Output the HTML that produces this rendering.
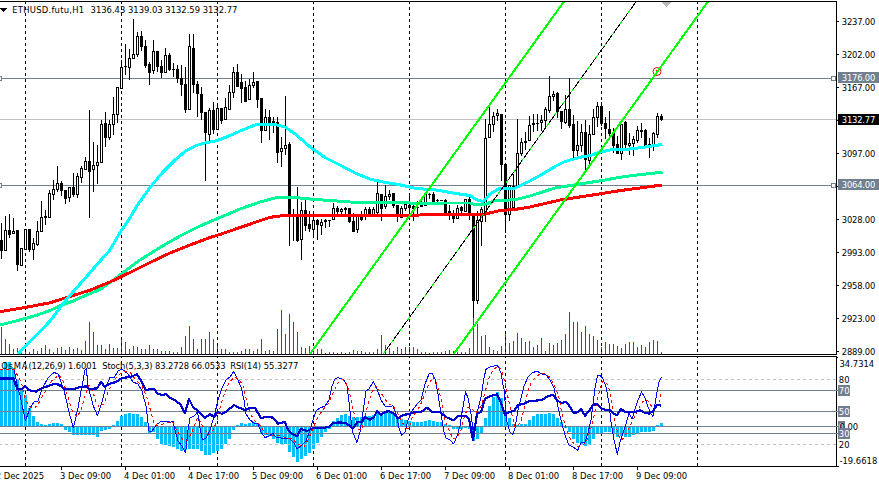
<!DOCTYPE html>
<html><head><meta charset="utf-8"><title>ETHUSD.futu,H1</title>
<style>
html,body{margin:0;padding:0;background:#fff;overflow:hidden}
svg{display:block}
text{font-family:"DejaVu Sans Condensed","Liberation Sans",sans-serif;font-size:9.33px;fill:#000}
.w{fill:#fff}
.p{letter-spacing:-0.2px}
.pw{letter-spacing:-0.2px;fill:#fff}
</style></head><body>
<svg width="879" height="483" viewBox="0 0 879 483">
<rect width="879" height="483" fill="#fff"/>
<defs>
<clipPath id="cm"><rect x="0" y="2" width="836" height="352"/></clipPath>
<clipPath id="ci"><rect x="0" y="357" width="836" height="109"/></clipPath>
</defs>

<g shape-rendering="crispEdges">
<rect x="0" y="78" width="836" height="1" fill="#708090"/>
<rect x="0" y="185" width="836" height="1" fill="#708090"/>
<rect x="0" y="119" width="838" height="1" fill="#c0c0c0"/>
<rect x="-3.5" y="76.5" width="5" height="4" fill="#fff" stroke="#708090" stroke-width="1"/>
<rect x="831.5" y="76.5" width="4" height="4" fill="#fff" stroke="#708090" stroke-width="1"/>
<rect x="-3.5" y="183.5" width="5" height="4" fill="#fff" stroke="#708090" stroke-width="1"/>
<rect x="831.5" y="183.5" width="4" height="4" fill="#fff" stroke="#708090" stroke-width="1"/>
</g>
<g shape-rendering="crispEdges" fill="#008000">
<rect x="1" y="327" width="1" height="27"/>
<rect x="5" y="339" width="1" height="15"/>
<rect x="9" y="344" width="1" height="10"/>
<rect x="13" y="349" width="1" height="5"/>
<rect x="17" y="348" width="1" height="6"/>
<rect x="21" y="350" width="1" height="4"/>
<rect x="25" y="350" width="1" height="4"/>
<rect x="29" y="352" width="1" height="2"/>
<rect x="33" y="349" width="1" height="5"/>
<rect x="37" y="351" width="1" height="3"/>
<rect x="41" y="348" width="1" height="6"/>
<rect x="45" y="345" width="1" height="9"/>
<rect x="49" y="349" width="1" height="5"/>
<rect x="53" y="352" width="1" height="2"/>
<rect x="57" y="348" width="1" height="6"/>
<rect x="61" y="347" width="1" height="7"/>
<rect x="65" y="350" width="1" height="4"/>
<rect x="69" y="347" width="1" height="7"/>
<rect x="73" y="349" width="1" height="5"/>
<rect x="77" y="348" width="1" height="6"/>
<rect x="81" y="350" width="1" height="4"/>
<rect x="85" y="341" width="1" height="13"/>
<rect x="89" y="322" width="1" height="32"/>
<rect x="93" y="332" width="1" height="22"/>
<rect x="97" y="345" width="1" height="9"/>
<rect x="101" y="345" width="1" height="9"/>
<rect x="105" y="349" width="1" height="5"/>
<rect x="109" y="344" width="1" height="10"/>
<rect x="113" y="348" width="1" height="6"/>
<rect x="117" y="348" width="1" height="6"/>
<rect x="121" y="339" width="1" height="15"/>
<rect x="125" y="342" width="1" height="12"/>
<rect x="129" y="349" width="1" height="5"/>
<rect x="133" y="346" width="1" height="8"/>
<rect x="137" y="347" width="1" height="7"/>
<rect x="141" y="349" width="1" height="5"/>
<rect x="145" y="349" width="1" height="5"/>
<rect x="149" y="345" width="1" height="9"/>
<rect x="153" y="349" width="1" height="5"/>
<rect x="157" y="349" width="1" height="5"/>
<rect x="161" y="351" width="1" height="3"/>
<rect x="165" y="351" width="1" height="3"/>
<rect x="169" y="351" width="1" height="3"/>
<rect x="173" y="352" width="1" height="2"/>
<rect x="177" y="352" width="1" height="2"/>
<rect x="181" y="347" width="1" height="7"/>
<rect x="185" y="336" width="1" height="18"/>
<rect x="189" y="326" width="1" height="28"/>
<rect x="193" y="339" width="1" height="15"/>
<rect x="197" y="349" width="1" height="5"/>
<rect x="201" y="339" width="1" height="15"/>
<rect x="205" y="339" width="1" height="15"/>
<rect x="209" y="332" width="1" height="22"/>
<rect x="213" y="339" width="1" height="15"/>
<rect x="217" y="345" width="1" height="9"/>
<rect x="221" y="349" width="1" height="5"/>
<rect x="225" y="349" width="1" height="5"/>
<rect x="229" y="352" width="1" height="2"/>
<rect x="233" y="352" width="1" height="2"/>
<rect x="237" y="352" width="1" height="2"/>
<rect x="241" y="351" width="1" height="3"/>
<rect x="245" y="349" width="1" height="5"/>
<rect x="249" y="349" width="1" height="5"/>
<rect x="253" y="351" width="1" height="3"/>
<rect x="257" y="349" width="1" height="5"/>
<rect x="261" y="339" width="1" height="15"/>
<rect x="265" y="351" width="1" height="3"/>
<rect x="269" y="350" width="1" height="4"/>
<rect x="273" y="351" width="1" height="3"/>
<rect x="277" y="329" width="1" height="25"/>
<rect x="281" y="310" width="1" height="44"/>
<rect x="285" y="334" width="1" height="20"/>
<rect x="289" y="314" width="1" height="40"/>
<rect x="293" y="322" width="1" height="32"/>
<rect x="297" y="332" width="1" height="22"/>
<rect x="301" y="347" width="1" height="7"/>
<rect x="305" y="348" width="1" height="6"/>
<rect x="309" y="346" width="1" height="8"/>
<rect x="313" y="347" width="1" height="7"/>
<rect x="317" y="349" width="1" height="5"/>
<rect x="321" y="349" width="1" height="5"/>
<rect x="325" y="353" width="1" height="1"/>
<rect x="329" y="352" width="1" height="2"/>
<rect x="333" y="352" width="1" height="2"/>
<rect x="337" y="353" width="1" height="1"/>
<rect x="341" y="352" width="1" height="2"/>
<rect x="345" y="353" width="1" height="1"/>
<rect x="349" y="352" width="1" height="2"/>
<rect x="353" y="350" width="1" height="4"/>
<rect x="357" y="351" width="1" height="3"/>
<rect x="361" y="351" width="1" height="3"/>
<rect x="365" y="352" width="1" height="2"/>
<rect x="369" y="352" width="1" height="2"/>
<rect x="373" y="352" width="1" height="2"/>
<rect x="377" y="349" width="1" height="5"/>
<rect x="381" y="335" width="1" height="19"/>
<rect x="385" y="345" width="1" height="9"/>
<rect x="389" y="348" width="1" height="6"/>
<rect x="393" y="351" width="1" height="3"/>
<rect x="397" y="347" width="1" height="7"/>
<rect x="401" y="349" width="1" height="5"/>
<rect x="405" y="347" width="1" height="7"/>
<rect x="409" y="347" width="1" height="7"/>
<rect x="413" y="347" width="1" height="7"/>
<rect x="417" y="349" width="1" height="5"/>
<rect x="421" y="352" width="1" height="2"/>
<rect x="425" y="352" width="1" height="2"/>
<rect x="429" y="353" width="1" height="1"/>
<rect x="433" y="352" width="1" height="2"/>
<rect x="437" y="352" width="1" height="2"/>
<rect x="441" y="352" width="1" height="2"/>
<rect x="445" y="351" width="1" height="3"/>
<rect x="449" y="350" width="1" height="4"/>
<rect x="453" y="351" width="1" height="3"/>
<rect x="457" y="352" width="1" height="2"/>
<rect x="461" y="352" width="1" height="2"/>
<rect x="465" y="352" width="1" height="2"/>
<rect x="469" y="348" width="1" height="6"/>
<rect x="473" y="317" width="1" height="37"/>
<rect x="477" y="324" width="1" height="30"/>
<rect x="481" y="336" width="1" height="18"/>
<rect x="485" y="335" width="1" height="19"/>
<rect x="489" y="347" width="1" height="7"/>
<rect x="493" y="350" width="1" height="4"/>
<rect x="497" y="351" width="1" height="3"/>
<rect x="501" y="346" width="1" height="8"/>
<rect x="505" y="331" width="1" height="23"/>
<rect x="509" y="343" width="1" height="11"/>
<rect x="513" y="341" width="1" height="13"/>
<rect x="517" y="333" width="1" height="21"/>
<rect x="521" y="338" width="1" height="16"/>
<rect x="525" y="342" width="1" height="12"/>
<rect x="529" y="341" width="1" height="13"/>
<rect x="533" y="347" width="1" height="7"/>
<rect x="537" y="345" width="1" height="9"/>
<rect x="541" y="338" width="1" height="16"/>
<rect x="545" y="351" width="1" height="3"/>
<rect x="549" y="343" width="1" height="11"/>
<rect x="553" y="345" width="1" height="9"/>
<rect x="557" y="343" width="1" height="11"/>
<rect x="561" y="340" width="1" height="14"/>
<rect x="565" y="334" width="1" height="20"/>
<rect x="569" y="312" width="1" height="42"/>
<rect x="573" y="322" width="1" height="32"/>
<rect x="577" y="322" width="1" height="32"/>
<rect x="581" y="332" width="1" height="22"/>
<rect x="585" y="326" width="1" height="28"/>
<rect x="589" y="334" width="1" height="20"/>
<rect x="593" y="336" width="1" height="18"/>
<rect x="597" y="340" width="1" height="14"/>
<rect x="601" y="347" width="1" height="7"/>
<rect x="605" y="342" width="1" height="12"/>
<rect x="609" y="344" width="1" height="10"/>
<rect x="613" y="344" width="1" height="10"/>
<rect x="617" y="346" width="1" height="8"/>
<rect x="621" y="348" width="1" height="6"/>
<rect x="625" y="344" width="1" height="10"/>
<rect x="629" y="342" width="1" height="12"/>
<rect x="633" y="342" width="1" height="12"/>
<rect x="637" y="347" width="1" height="7"/>
<rect x="641" y="345" width="1" height="9"/>
<rect x="645" y="347" width="1" height="7"/>
<rect x="649" y="342" width="1" height="12"/>
<rect x="653" y="340" width="1" height="14"/>
<rect x="657" y="341" width="1" height="13"/>
<rect x="661" y="352" width="1" height="2"/>
</g>
<g shape-rendering="crispEdges" stroke="#000" stroke-width="1" stroke-dasharray="3 3">
<line x1="25.5" y1="1" x2="25.5" y2="354"/>
<line x1="25.5" y1="357" x2="25.5" y2="466" stroke-dashoffset="2"/>
<line x1="121.5" y1="1" x2="121.5" y2="354"/>
<line x1="121.5" y1="357" x2="121.5" y2="466" stroke-dashoffset="2"/>
<line x1="217.5" y1="1" x2="217.5" y2="354"/>
<line x1="217.5" y1="357" x2="217.5" y2="466" stroke-dashoffset="2"/>
<line x1="313.5" y1="1" x2="313.5" y2="354"/>
<line x1="313.5" y1="357" x2="313.5" y2="466" stroke-dashoffset="2"/>
<line x1="409.5" y1="1" x2="409.5" y2="354"/>
<line x1="409.5" y1="357" x2="409.5" y2="466" stroke-dashoffset="2"/>
<line x1="505.5" y1="1" x2="505.5" y2="354"/>
<line x1="505.5" y1="357" x2="505.5" y2="466" stroke-dashoffset="2"/>
<line x1="601.5" y1="1" x2="601.5" y2="354"/>
<line x1="601.5" y1="357" x2="601.5" y2="466" stroke-dashoffset="2"/>
<line x1="697.5" y1="1" x2="697.5" y2="354"/>
<line x1="697.5" y1="357" x2="697.5" y2="466" stroke-dashoffset="2"/>
</g>
<g shape-rendering="crispEdges" clip-path="url(#cm)">
<rect x="1" y="223" width="1" height="36" fill="#000"/>
<rect x="0" y="240" width="3" height="11" fill="#000"/>
<rect x="5" y="216" width="1" height="35" fill="#000"/>
<rect x="4" y="230" width="3" height="21" fill="#000"/>
<rect x="5" y="231" width="1" height="19" fill="#fff"/>
<rect x="9" y="214" width="1" height="24" fill="#000"/>
<rect x="8" y="230" width="3" height="5" fill="#000"/>
<rect x="13" y="218" width="1" height="16" fill="#000"/>
<rect x="12" y="231" width="3" height="3" fill="#000"/>
<rect x="13" y="232" width="1" height="1" fill="#fff"/>
<rect x="17" y="230" width="1" height="41" fill="#000"/>
<rect x="16" y="230" width="3" height="35" fill="#000"/>
<rect x="21" y="248" width="1" height="18" fill="#000"/>
<rect x="20" y="248" width="3" height="18" fill="#000"/>
<rect x="21" y="249" width="1" height="16" fill="#fff"/>
<rect x="25" y="229" width="1" height="21" fill="#000"/>
<rect x="24" y="229" width="3" height="21" fill="#000"/>
<rect x="25" y="230" width="1" height="19" fill="#fff"/>
<rect x="29" y="229" width="1" height="23" fill="#000"/>
<rect x="28" y="229" width="3" height="21" fill="#000"/>
<rect x="33" y="238" width="1" height="22" fill="#000"/>
<rect x="32" y="243" width="3" height="7" fill="#000"/>
<rect x="33" y="244" width="1" height="5" fill="#fff"/>
<rect x="37" y="221" width="1" height="25" fill="#000"/>
<rect x="36" y="231" width="3" height="14" fill="#000"/>
<rect x="37" y="232" width="1" height="12" fill="#fff"/>
<rect x="41" y="201" width="1" height="31" fill="#000"/>
<rect x="40" y="217" width="3" height="15" fill="#000"/>
<rect x="41" y="218" width="1" height="13" fill="#fff"/>
<rect x="45" y="210" width="1" height="15" fill="#000"/>
<rect x="44" y="216" width="3" height="2" fill="#000"/>
<rect x="49" y="190" width="1" height="28" fill="#000"/>
<rect x="48" y="193" width="3" height="25" fill="#000"/>
<rect x="49" y="194" width="1" height="23" fill="#fff"/>
<rect x="53" y="180" width="1" height="20" fill="#000"/>
<rect x="52" y="189" width="3" height="6" fill="#000"/>
<rect x="53" y="190" width="1" height="4" fill="#fff"/>
<rect x="57" y="166" width="1" height="26" fill="#000"/>
<rect x="56" y="183" width="3" height="7" fill="#000"/>
<rect x="57" y="184" width="1" height="5" fill="#fff"/>
<rect x="61" y="181" width="1" height="15" fill="#000"/>
<rect x="60" y="183" width="3" height="8" fill="#000"/>
<rect x="65" y="190" width="1" height="14" fill="#000"/>
<rect x="64" y="190" width="3" height="9" fill="#000"/>
<rect x="69" y="187" width="1" height="15" fill="#000"/>
<rect x="68" y="187" width="3" height="11" fill="#000"/>
<rect x="69" y="188" width="1" height="9" fill="#fff"/>
<rect x="73" y="173" width="1" height="24" fill="#000"/>
<rect x="72" y="187" width="3" height="8" fill="#000"/>
<rect x="77" y="173" width="1" height="25" fill="#000"/>
<rect x="76" y="176" width="3" height="19" fill="#000"/>
<rect x="77" y="177" width="1" height="17" fill="#fff"/>
<rect x="81" y="166" width="1" height="17" fill="#000"/>
<rect x="80" y="168" width="3" height="10" fill="#000"/>
<rect x="81" y="169" width="1" height="8" fill="#fff"/>
<rect x="85" y="157" width="1" height="13" fill="#000"/>
<rect x="84" y="161" width="3" height="9" fill="#000"/>
<rect x="85" y="162" width="1" height="7" fill="#fff"/>
<rect x="89" y="110" width="1" height="108" fill="#000"/>
<rect x="88" y="161" width="3" height="11" fill="#000"/>
<rect x="93" y="142" width="1" height="50" fill="#000"/>
<rect x="92" y="165" width="3" height="5" fill="#000"/>
<rect x="93" y="166" width="1" height="3" fill="#fff"/>
<rect x="97" y="145" width="1" height="39" fill="#000"/>
<rect x="96" y="162" width="3" height="4" fill="#000"/>
<rect x="97" y="163" width="1" height="2" fill="#fff"/>
<rect x="101" y="120" width="1" height="43" fill="#000"/>
<rect x="100" y="124" width="3" height="39" fill="#000"/>
<rect x="101" y="125" width="1" height="37" fill="#fff"/>
<rect x="105" y="112" width="1" height="35" fill="#000"/>
<rect x="104" y="123" width="3" height="15" fill="#000"/>
<rect x="109" y="120" width="1" height="20" fill="#000"/>
<rect x="108" y="124" width="3" height="14" fill="#000"/>
<rect x="109" y="125" width="1" height="12" fill="#fff"/>
<rect x="113" y="97" width="1" height="38" fill="#000"/>
<rect x="112" y="114" width="3" height="11" fill="#000"/>
<rect x="113" y="115" width="1" height="9" fill="#fff"/>
<rect x="117" y="87" width="1" height="36" fill="#000"/>
<rect x="116" y="87" width="3" height="28" fill="#000"/>
<rect x="117" y="88" width="1" height="26" fill="#fff"/>
<rect x="121" y="60" width="1" height="29" fill="#000"/>
<rect x="120" y="67" width="3" height="22" fill="#000"/>
<rect x="121" y="68" width="1" height="20" fill="#fff"/>
<rect x="125" y="44" width="1" height="31" fill="#000"/>
<rect x="124" y="66" width="3" height="1" fill="#000"/>
<rect x="129" y="49" width="1" height="31" fill="#000"/>
<rect x="128" y="58" width="3" height="10" fill="#000"/>
<rect x="129" y="59" width="1" height="8" fill="#fff"/>
<rect x="133" y="19" width="1" height="40" fill="#000"/>
<rect x="132" y="54" width="3" height="5" fill="#000"/>
<rect x="133" y="55" width="1" height="3" fill="#fff"/>
<rect x="137" y="32" width="1" height="25" fill="#000"/>
<rect x="136" y="36" width="3" height="19" fill="#000"/>
<rect x="137" y="37" width="1" height="17" fill="#fff"/>
<rect x="141" y="31" width="1" height="20" fill="#000"/>
<rect x="140" y="36" width="3" height="11" fill="#000"/>
<rect x="145" y="40" width="1" height="28" fill="#000"/>
<rect x="144" y="46" width="3" height="20" fill="#000"/>
<rect x="149" y="62" width="1" height="23" fill="#000"/>
<rect x="148" y="64" width="3" height="9" fill="#000"/>
<rect x="153" y="40" width="1" height="34" fill="#000"/>
<rect x="152" y="51" width="3" height="20" fill="#000"/>
<rect x="153" y="52" width="1" height="18" fill="#fff"/>
<rect x="157" y="51" width="1" height="21" fill="#000"/>
<rect x="156" y="51" width="3" height="16" fill="#000"/>
<rect x="161" y="60" width="1" height="18" fill="#000"/>
<rect x="160" y="66" width="3" height="7" fill="#000"/>
<rect x="165" y="48" width="1" height="25" fill="#000"/>
<rect x="164" y="55" width="3" height="18" fill="#000"/>
<rect x="165" y="56" width="1" height="16" fill="#fff"/>
<rect x="169" y="53" width="1" height="18" fill="#000"/>
<rect x="168" y="55" width="3" height="15" fill="#000"/>
<rect x="173" y="63" width="1" height="14" fill="#000"/>
<rect x="172" y="69" width="3" height="1" fill="#000"/>
<rect x="177" y="65" width="1" height="18" fill="#000"/>
<rect x="176" y="69" width="3" height="10" fill="#000"/>
<rect x="181" y="65" width="1" height="31" fill="#000"/>
<rect x="180" y="78" width="3" height="7" fill="#000"/>
<rect x="185" y="67" width="1" height="46" fill="#000"/>
<rect x="184" y="84" width="3" height="26" fill="#000"/>
<rect x="189" y="34" width="1" height="76" fill="#000"/>
<rect x="188" y="46" width="3" height="64" fill="#000"/>
<rect x="189" y="47" width="1" height="62" fill="#fff"/>
<rect x="193" y="34" width="1" height="59" fill="#000"/>
<rect x="192" y="48" width="3" height="37" fill="#000"/>
<rect x="197" y="81" width="1" height="36" fill="#000"/>
<rect x="196" y="84" width="3" height="10" fill="#000"/>
<rect x="201" y="87" width="1" height="33" fill="#000"/>
<rect x="200" y="94" width="3" height="19" fill="#000"/>
<rect x="205" y="112" width="1" height="69" fill="#000"/>
<rect x="204" y="112" width="3" height="21" fill="#000"/>
<rect x="209" y="108" width="1" height="36" fill="#000"/>
<rect x="208" y="110" width="3" height="25" fill="#000"/>
<rect x="209" y="111" width="1" height="23" fill="#fff"/>
<rect x="213" y="102" width="1" height="32" fill="#000"/>
<rect x="212" y="110" width="3" height="20" fill="#000"/>
<rect x="217" y="103" width="1" height="27" fill="#000"/>
<rect x="216" y="108" width="3" height="22" fill="#000"/>
<rect x="217" y="109" width="1" height="20" fill="#fff"/>
<rect x="221" y="108" width="1" height="16" fill="#000"/>
<rect x="220" y="108" width="3" height="13" fill="#000"/>
<rect x="225" y="98" width="1" height="22" fill="#000"/>
<rect x="224" y="107" width="3" height="13" fill="#000"/>
<rect x="225" y="108" width="1" height="11" fill="#fff"/>
<rect x="229" y="85" width="1" height="25" fill="#000"/>
<rect x="228" y="92" width="3" height="18" fill="#000"/>
<rect x="229" y="93" width="1" height="16" fill="#fff"/>
<rect x="233" y="67" width="1" height="31" fill="#000"/>
<rect x="232" y="72" width="3" height="21" fill="#000"/>
<rect x="233" y="73" width="1" height="19" fill="#fff"/>
<rect x="237" y="64" width="1" height="23" fill="#000"/>
<rect x="236" y="72" width="3" height="15" fill="#000"/>
<rect x="241" y="74" width="1" height="29" fill="#000"/>
<rect x="240" y="82" width="3" height="7" fill="#000"/>
<rect x="245" y="81" width="1" height="21" fill="#000"/>
<rect x="244" y="87" width="3" height="15" fill="#000"/>
<rect x="249" y="79" width="1" height="21" fill="#000"/>
<rect x="248" y="85" width="3" height="15" fill="#000"/>
<rect x="249" y="86" width="1" height="13" fill="#fff"/>
<rect x="253" y="72" width="1" height="16" fill="#000"/>
<rect x="252" y="82" width="3" height="4" fill="#000"/>
<rect x="253" y="83" width="1" height="2" fill="#fff"/>
<rect x="257" y="81" width="1" height="27" fill="#000"/>
<rect x="256" y="81" width="3" height="19" fill="#000"/>
<rect x="261" y="98" width="1" height="45" fill="#000"/>
<rect x="260" y="98" width="3" height="33" fill="#000"/>
<rect x="265" y="109" width="1" height="22" fill="#000"/>
<rect x="264" y="117" width="3" height="14" fill="#000"/>
<rect x="265" y="118" width="1" height="12" fill="#fff"/>
<rect x="269" y="110" width="1" height="30" fill="#000"/>
<rect x="268" y="117" width="3" height="6" fill="#000"/>
<rect x="273" y="117" width="1" height="16" fill="#000"/>
<rect x="272" y="121" width="3" height="3" fill="#000"/>
<rect x="277" y="117" width="1" height="46" fill="#000"/>
<rect x="276" y="122" width="3" height="31" fill="#000"/>
<rect x="281" y="137" width="1" height="30" fill="#000"/>
<rect x="280" y="148" width="3" height="4" fill="#000"/>
<rect x="281" y="149" width="1" height="2" fill="#fff"/>
<rect x="285" y="96" width="1" height="59" fill="#000"/>
<rect x="284" y="145" width="3" height="4" fill="#000"/>
<rect x="285" y="146" width="1" height="2" fill="#fff"/>
<rect x="289" y="142" width="1" height="104" fill="#000"/>
<rect x="288" y="144" width="3" height="73" fill="#000"/>
<rect x="293" y="209" width="1" height="32" fill="#000"/>
<rect x="292" y="214" width="3" height="2" fill="#000"/>
<rect x="297" y="187" width="1" height="55" fill="#000"/>
<rect x="296" y="214" width="3" height="27" fill="#000"/>
<rect x="301" y="202" width="1" height="58" fill="#000"/>
<rect x="300" y="210" width="3" height="30" fill="#000"/>
<rect x="301" y="211" width="1" height="28" fill="#fff"/>
<rect x="305" y="200" width="1" height="31" fill="#000"/>
<rect x="304" y="210" width="3" height="16" fill="#000"/>
<rect x="309" y="211" width="1" height="21" fill="#000"/>
<rect x="308" y="224" width="3" height="5" fill="#000"/>
<rect x="313" y="220" width="1" height="18" fill="#000"/>
<rect x="312" y="220" width="3" height="10" fill="#000"/>
<rect x="313" y="221" width="1" height="8" fill="#fff"/>
<rect x="317" y="219" width="1" height="21" fill="#000"/>
<rect x="316" y="220" width="3" height="5" fill="#000"/>
<rect x="321" y="219" width="1" height="16" fill="#000"/>
<rect x="320" y="222" width="3" height="4" fill="#000"/>
<rect x="321" y="223" width="1" height="2" fill="#fff"/>
<rect x="325" y="219" width="1" height="9" fill="#000"/>
<rect x="324" y="220" width="3" height="2" fill="#000"/>
<rect x="329" y="220" width="1" height="7" fill="#000"/>
<rect x="328" y="220" width="3" height="1" fill="#000"/>
<rect x="333" y="203" width="1" height="17" fill="#000"/>
<rect x="332" y="208" width="3" height="12" fill="#000"/>
<rect x="333" y="209" width="1" height="10" fill="#fff"/>
<rect x="337" y="206" width="1" height="9" fill="#000"/>
<rect x="336" y="208" width="3" height="4" fill="#000"/>
<rect x="341" y="208" width="1" height="7" fill="#000"/>
<rect x="340" y="209" width="3" height="3" fill="#000"/>
<rect x="341" y="210" width="1" height="1" fill="#fff"/>
<rect x="345" y="207" width="1" height="7" fill="#000"/>
<rect x="344" y="208" width="3" height="2" fill="#000"/>
<rect x="349" y="208" width="1" height="15" fill="#000"/>
<rect x="348" y="208" width="3" height="14" fill="#000"/>
<rect x="353" y="213" width="1" height="19" fill="#000"/>
<rect x="352" y="221" width="3" height="11" fill="#000"/>
<rect x="357" y="216" width="1" height="17" fill="#000"/>
<rect x="356" y="216" width="3" height="14" fill="#000"/>
<rect x="357" y="217" width="1" height="12" fill="#fff"/>
<rect x="361" y="211" width="1" height="10" fill="#000"/>
<rect x="360" y="217" width="3" height="3" fill="#000"/>
<rect x="365" y="207" width="1" height="13" fill="#000"/>
<rect x="364" y="209" width="3" height="7" fill="#000"/>
<rect x="365" y="210" width="1" height="5" fill="#fff"/>
<rect x="369" y="207" width="1" height="9" fill="#000"/>
<rect x="368" y="209" width="3" height="7" fill="#000"/>
<rect x="373" y="207" width="1" height="8" fill="#000"/>
<rect x="372" y="209" width="3" height="6" fill="#000"/>
<rect x="373" y="210" width="1" height="4" fill="#fff"/>
<rect x="377" y="180" width="1" height="35" fill="#000"/>
<rect x="376" y="193" width="3" height="20" fill="#000"/>
<rect x="377" y="194" width="1" height="18" fill="#fff"/>
<rect x="381" y="194" width="1" height="27" fill="#000"/>
<rect x="380" y="194" width="3" height="15" fill="#000"/>
<rect x="385" y="185" width="1" height="24" fill="#000"/>
<rect x="384" y="196" width="3" height="11" fill="#000"/>
<rect x="385" y="197" width="1" height="9" fill="#fff"/>
<rect x="389" y="190" width="1" height="10" fill="#000"/>
<rect x="388" y="194" width="3" height="3" fill="#000"/>
<rect x="389" y="195" width="1" height="1" fill="#fff"/>
<rect x="393" y="193" width="1" height="15" fill="#000"/>
<rect x="392" y="193" width="3" height="13" fill="#000"/>
<rect x="397" y="205" width="1" height="17" fill="#000"/>
<rect x="396" y="205" width="3" height="11" fill="#000"/>
<rect x="401" y="206" width="1" height="12" fill="#000"/>
<rect x="400" y="208" width="3" height="10" fill="#000"/>
<rect x="401" y="209" width="1" height="8" fill="#fff"/>
<rect x="405" y="203" width="1" height="8" fill="#000"/>
<rect x="404" y="204" width="3" height="5" fill="#000"/>
<rect x="405" y="205" width="1" height="3" fill="#fff"/>
<rect x="409" y="195" width="1" height="22" fill="#000"/>
<rect x="408" y="205" width="3" height="3" fill="#000"/>
<rect x="413" y="205" width="1" height="16" fill="#000"/>
<rect x="412" y="206" width="3" height="3" fill="#000"/>
<rect x="417" y="201" width="1" height="14" fill="#000"/>
<rect x="416" y="207" width="3" height="1" fill="#000"/>
<rect x="421" y="201" width="1" height="6" fill="#000"/>
<rect x="420" y="204" width="3" height="3" fill="#000"/>
<rect x="425" y="194" width="1" height="12" fill="#000"/>
<rect x="424" y="194" width="3" height="12" fill="#000"/>
<rect x="425" y="195" width="1" height="10" fill="#fff"/>
<rect x="429" y="193" width="1" height="6" fill="#000"/>
<rect x="428" y="194" width="3" height="1" fill="#000"/>
<rect x="433" y="192" width="1" height="13" fill="#000"/>
<rect x="432" y="194" width="3" height="8" fill="#000"/>
<rect x="437" y="199" width="1" height="6" fill="#000"/>
<rect x="436" y="200" width="3" height="1" fill="#000"/>
<rect x="441" y="200" width="1" height="1" fill="#000"/>
<rect x="440" y="200" width="3" height="1" fill="#000"/>
<rect x="445" y="199" width="1" height="15" fill="#000"/>
<rect x="444" y="200" width="3" height="13" fill="#000"/>
<rect x="449" y="205" width="1" height="15" fill="#000"/>
<rect x="448" y="211" width="3" height="2" fill="#000"/>
<rect x="453" y="210" width="1" height="13" fill="#000"/>
<rect x="452" y="216" width="3" height="3" fill="#000"/>
<rect x="457" y="205" width="1" height="14" fill="#000"/>
<rect x="456" y="208" width="3" height="11" fill="#000"/>
<rect x="457" y="209" width="1" height="9" fill="#fff"/>
<rect x="461" y="206" width="1" height="7" fill="#000"/>
<rect x="460" y="207" width="3" height="4" fill="#000"/>
<rect x="465" y="199" width="1" height="13" fill="#000"/>
<rect x="464" y="199" width="3" height="13" fill="#000"/>
<rect x="465" y="200" width="1" height="11" fill="#fff"/>
<rect x="469" y="197" width="1" height="23" fill="#000"/>
<rect x="468" y="199" width="3" height="14" fill="#000"/>
<rect x="473" y="214" width="1" height="104" fill="#000"/>
<rect x="472" y="214" width="3" height="87" fill="#000"/>
<rect x="477" y="211" width="1" height="93" fill="#000"/>
<rect x="476" y="220" width="3" height="81" fill="#000"/>
<rect x="477" y="221" width="1" height="79" fill="#fff"/>
<rect x="481" y="207" width="1" height="39" fill="#000"/>
<rect x="480" y="209" width="3" height="13" fill="#000"/>
<rect x="481" y="210" width="1" height="11" fill="#fff"/>
<rect x="485" y="119" width="1" height="103" fill="#000"/>
<rect x="484" y="138" width="3" height="75" fill="#000"/>
<rect x="485" y="139" width="1" height="73" fill="#fff"/>
<rect x="489" y="107" width="1" height="31" fill="#000"/>
<rect x="488" y="124" width="3" height="14" fill="#000"/>
<rect x="489" y="125" width="1" height="12" fill="#fff"/>
<rect x="493" y="112" width="1" height="20" fill="#000"/>
<rect x="492" y="116" width="3" height="9" fill="#000"/>
<rect x="493" y="117" width="1" height="7" fill="#fff"/>
<rect x="497" y="109" width="1" height="12" fill="#000"/>
<rect x="496" y="113" width="3" height="3" fill="#000"/>
<rect x="497" y="114" width="1" height="1" fill="#fff"/>
<rect x="501" y="114" width="1" height="67" fill="#000"/>
<rect x="500" y="114" width="3" height="51" fill="#000"/>
<rect x="505" y="163" width="1" height="70" fill="#000"/>
<rect x="504" y="164" width="3" height="51" fill="#000"/>
<rect x="509" y="185" width="1" height="36" fill="#000"/>
<rect x="508" y="185" width="3" height="30" fill="#000"/>
<rect x="509" y="186" width="1" height="28" fill="#fff"/>
<rect x="513" y="174" width="1" height="34" fill="#000"/>
<rect x="512" y="186" width="3" height="22" fill="#000"/>
<rect x="513" y="187" width="1" height="20" fill="#fff"/>
<rect x="517" y="119" width="1" height="68" fill="#000"/>
<rect x="516" y="153" width="3" height="34" fill="#000"/>
<rect x="517" y="154" width="1" height="32" fill="#fff"/>
<rect x="521" y="138" width="1" height="18" fill="#000"/>
<rect x="520" y="142" width="3" height="12" fill="#000"/>
<rect x="521" y="143" width="1" height="10" fill="#fff"/>
<rect x="525" y="132" width="1" height="18" fill="#000"/>
<rect x="524" y="141" width="3" height="2" fill="#000"/>
<rect x="529" y="116" width="1" height="25" fill="#000"/>
<rect x="528" y="125" width="3" height="16" fill="#000"/>
<rect x="529" y="126" width="1" height="14" fill="#fff"/>
<rect x="533" y="114" width="1" height="18" fill="#000"/>
<rect x="532" y="123" width="3" height="2" fill="#000"/>
<rect x="537" y="114" width="1" height="17" fill="#000"/>
<rect x="536" y="123" width="3" height="1" fill="#000"/>
<rect x="541" y="115" width="1" height="16" fill="#000"/>
<rect x="540" y="120" width="3" height="3" fill="#000"/>
<rect x="541" y="121" width="1" height="1" fill="#fff"/>
<rect x="545" y="107" width="1" height="21" fill="#000"/>
<rect x="544" y="109" width="3" height="12" fill="#000"/>
<rect x="545" y="110" width="1" height="10" fill="#fff"/>
<rect x="549" y="76" width="1" height="37" fill="#000"/>
<rect x="548" y="96" width="3" height="15" fill="#000"/>
<rect x="549" y="97" width="1" height="13" fill="#fff"/>
<rect x="553" y="91" width="1" height="10" fill="#000"/>
<rect x="552" y="94" width="3" height="3" fill="#000"/>
<rect x="553" y="95" width="1" height="1" fill="#fff"/>
<rect x="557" y="92" width="1" height="26" fill="#000"/>
<rect x="556" y="93" width="3" height="19" fill="#000"/>
<rect x="561" y="111" width="1" height="18" fill="#000"/>
<rect x="560" y="111" width="3" height="11" fill="#000"/>
<rect x="565" y="95" width="1" height="29" fill="#000"/>
<rect x="564" y="109" width="3" height="14" fill="#000"/>
<rect x="565" y="110" width="1" height="12" fill="#fff"/>
<rect x="569" y="78" width="1" height="50" fill="#000"/>
<rect x="568" y="109" width="3" height="17" fill="#000"/>
<rect x="573" y="115" width="1" height="43" fill="#000"/>
<rect x="572" y="124" width="3" height="27" fill="#000"/>
<rect x="577" y="121" width="1" height="37" fill="#000"/>
<rect x="576" y="145" width="3" height="6" fill="#000"/>
<rect x="577" y="146" width="1" height="4" fill="#fff"/>
<rect x="581" y="124" width="1" height="28" fill="#000"/>
<rect x="580" y="132" width="3" height="14" fill="#000"/>
<rect x="581" y="133" width="1" height="12" fill="#fff"/>
<rect x="585" y="120" width="1" height="50" fill="#000"/>
<rect x="584" y="132" width="3" height="28" fill="#000"/>
<rect x="589" y="125" width="1" height="39" fill="#000"/>
<rect x="588" y="134" width="3" height="27" fill="#000"/>
<rect x="589" y="135" width="1" height="25" fill="#fff"/>
<rect x="593" y="109" width="1" height="26" fill="#000"/>
<rect x="592" y="117" width="3" height="18" fill="#000"/>
<rect x="593" y="118" width="1" height="16" fill="#fff"/>
<rect x="597" y="102" width="1" height="25" fill="#000"/>
<rect x="596" y="106" width="3" height="12" fill="#000"/>
<rect x="597" y="107" width="1" height="10" fill="#fff"/>
<rect x="601" y="102" width="1" height="24" fill="#000"/>
<rect x="600" y="106" width="3" height="18" fill="#000"/>
<rect x="605" y="117" width="1" height="22" fill="#000"/>
<rect x="604" y="123" width="3" height="6" fill="#000"/>
<rect x="609" y="111" width="1" height="26" fill="#000"/>
<rect x="608" y="129" width="3" height="5" fill="#000"/>
<rect x="613" y="128" width="1" height="25" fill="#000"/>
<rect x="612" y="132" width="3" height="14" fill="#000"/>
<rect x="617" y="136" width="1" height="18" fill="#000"/>
<rect x="616" y="144" width="3" height="10" fill="#000"/>
<rect x="621" y="124" width="1" height="36" fill="#000"/>
<rect x="620" y="124" width="3" height="30" fill="#000"/>
<rect x="621" y="125" width="1" height="28" fill="#fff"/>
<rect x="625" y="121" width="1" height="27" fill="#000"/>
<rect x="624" y="122" width="3" height="23" fill="#000"/>
<rect x="629" y="133" width="1" height="22" fill="#000"/>
<rect x="628" y="143" width="3" height="3" fill="#000"/>
<rect x="629" y="144" width="1" height="1" fill="#fff"/>
<rect x="633" y="136" width="1" height="20" fill="#000"/>
<rect x="632" y="139" width="3" height="5" fill="#000"/>
<rect x="633" y="140" width="1" height="3" fill="#fff"/>
<rect x="637" y="126" width="1" height="17" fill="#000"/>
<rect x="636" y="130" width="3" height="11" fill="#000"/>
<rect x="637" y="131" width="1" height="9" fill="#fff"/>
<rect x="641" y="123" width="1" height="15" fill="#000"/>
<rect x="640" y="130" width="3" height="2" fill="#000"/>
<rect x="645" y="129" width="1" height="18" fill="#000"/>
<rect x="644" y="130" width="3" height="17" fill="#000"/>
<rect x="649" y="138" width="1" height="20" fill="#000"/>
<rect x="648" y="144" width="3" height="3" fill="#000"/>
<rect x="649" y="145" width="1" height="1" fill="#fff"/>
<rect x="653" y="132" width="1" height="19" fill="#000"/>
<rect x="652" y="133" width="3" height="13" fill="#000"/>
<rect x="653" y="134" width="1" height="11" fill="#fff"/>
<rect x="657" y="113" width="1" height="25" fill="#000"/>
<rect x="656" y="116" width="3" height="19" fill="#000"/>
<rect x="657" y="117" width="1" height="17" fill="#fff"/>
<rect x="661" y="114" width="1" height="7" fill="#000"/>
<rect x="660" y="116" width="3" height="4" fill="#000"/>
</g>
<g clip-path="url(#cm)" shape-rendering="crispEdges">
<polyline points="-2.0,325.6 16.0,321.0 25.0,318.5 37.5,315.0 50.0,310.4 60.0,305.8 75.0,300.4 80.0,297.8 100.0,289.5 120.0,275.0 140.0,260.0 160.0,247.5 180.0,236.0 200.0,226.0 220.0,217.5 240.0,209.0 260.0,202.0 275.0,198.0 290.0,197.0 310.0,199.0 330.0,200.5 350.0,202.0 375.0,202.5 400.0,202.5 420.0,203.5 445.0,203.0 470.0,203.0 476.0,205.0 485.0,204.4 495.0,200.6 515.0,199.75 530.0,196.0 555.0,188.0 580.0,184.0 605.0,180.0 620.0,177.25 640.0,174.6 662.5,172.25" fill="none" stroke="#00fa9a" stroke-width="3" stroke-linejoin="round" />
<polyline points="-2.0,312.0 25.0,307.5 50.0,302.8 70.0,296.5 90.0,290.2 110.0,282.0 130.0,272.5 150.0,262.5 170.0,253.0 190.0,245.0 210.0,237.5 220.0,234.5 240.0,227.5 260.0,220.7 268.0,218.0 275.0,216.4 283.0,215.8 300.0,215.8 375.0,216.0 390.0,215.5 420.0,215.0 445.0,214.0 485.0,214.0 500.0,210.6 515.0,209.4 530.0,207.0 560.0,200.0 592.5,195.0 620.0,190.6 640.0,188.0 662.0,185.0" fill="none" stroke="#ff0000" stroke-width="3" stroke-linejoin="round" />
<polyline points="18.0,354.0 51.0,320.0 66.0,300.0 88.0,275.0 101.0,260.0 110.0,250.0 120.0,232.5 128.75,219.75 137.5,205.0 150.0,187.5 162.5,172.5 175.0,160.0 185.0,151.5 195.0,146.0 205.0,143.0 217.5,140.5 230.0,135.5 242.5,130.0 255.0,125.0 262.5,124.2 275.0,124.5 285.0,127.0 295.0,133.75 305.0,142.5 312.5,149.0 320.0,153.75 325.0,157.5 340.0,165.0 355.0,173.0 370.0,179.0 385.0,182.5 396.0,184.0 416.0,188.5 436.0,190.0 456.0,193.5 470.0,195.5 476.0,199.5 481.0,201.0 484.0,201.0 490.0,194.0 500.0,188.0 515.0,188.0 530.0,181.0 542.5,174.0 555.0,166.5 565.0,161.5 580.0,157.25 590.0,155.6 600.0,152.25 610.0,150.0 625.0,149.4 632.5,148.75 645.0,147.0 662.5,144.4" fill="none" stroke="#00ffff" stroke-width="3" stroke-linejoin="round" />
<line x1="310" y1="354" x2="564" y2="1.5" stroke="#00ff00" stroke-width="2.05"/>
<line x1="453.8" y1="354" x2="708" y2="1.5" stroke="#00ff00" stroke-width="2.05"/>
<line x1="383.2" y1="354" x2="636.2" y2="1.5" stroke="#000" stroke-width="1"/>
<line x1="383.2" y1="354" x2="636.2" y2="1.5" stroke="#00ff00" stroke-width="1" stroke-dasharray="4 10"/>
</g>
<circle cx="657" cy="71.5" r="4" fill="none" stroke="#ff0000" stroke-width="1"/>
<circle cx="656.5" cy="70.5" r="0.8" fill="#ff0000"/>
<g clip-path="url(#cm)" shape-rendering="crispEdges"><line x1="453.8" y1="354" x2="708" y2="1.5" stroke="#00ff00" stroke-width="2.05"/></g>
<path d="M662 2h9v1h-1v1h-1v1h-1v1h-1v1h-1v-1h-1v-1h-1v-1h-1v-1h-1z" fill="#b8b8b8" shape-rendering="crispEdges"/>
<g shape-rendering="crispEdges" fill="#000">
<rect x="0" y="1" width="837" height="1"/>
<rect x="836" y="1" width="1" height="354"/>
<rect x="0" y="354" width="837" height="1"/>
<rect x="0" y="356" width="837" height="1"/>
<rect x="836" y="356" width="1" height="111"/>
<rect x="0" y="466" width="839" height="1"/>
<rect x="837" y="21" width="2" height="1"/>
<rect x="837" y="54" width="2" height="1"/>
<rect x="837" y="87" width="2" height="1"/>
<rect x="837" y="120" width="2" height="1"/>
<rect x="837" y="153" width="2" height="1"/>
<rect x="837" y="186" width="2" height="1"/>
<rect x="837" y="219" width="2" height="1"/>
<rect x="837" y="252" width="2" height="1"/>
<rect x="837" y="285" width="2" height="1"/>
<rect x="837" y="318" width="2" height="1"/>
<rect x="837" y="351" width="2" height="1"/>
<rect x="837" y="357" width="1" height="1"/>
<rect x="61" y="467" width="1" height="3"/>
<rect x="125" y="467" width="1" height="3"/>
<rect x="189" y="467" width="1" height="3"/>
<rect x="253" y="467" width="1" height="3"/>
<rect x="317" y="467" width="1" height="3"/>
<rect x="381" y="467" width="1" height="3"/>
<rect x="445" y="467" width="1" height="3"/>
<rect x="509" y="467" width="1" height="3"/>
<rect x="573" y="467" width="1" height="3"/>
<rect x="637" y="467" width="1" height="3"/>
</g>
<path d="M0 8 L7 8 L3.5 12 Z" fill="#000" shape-rendering="crispEdges"/>
<text x="12.3" y="13" letter-spacing="0.25">ETHUSD.futu,H1</text>
<text x="90.6" y="13">3136.43 3139.03 3132.59 3132.77</text>
<text class="p" x="841.8" y="25">3237.00</text>
<text class="p" x="841.8" y="58">3202.00</text>
<text class="p" x="841.8" y="91">3167.00</text>
<text class="p" x="841.8" y="157">3097.00</text>
<text class="p" x="841.8" y="223">3028.00</text>
<text class="p" x="841.8" y="256">2993.00</text>
<text class="p" x="841.8" y="289">2958.00</text>
<text class="p" x="841.8" y="322">2923.00</text>
<text class="p" x="841.8" y="355">2889.00</text>
<rect x="838" y="72" width="41" height="11" fill="#708090" shape-rendering="crispEdges"/>
<text class="pw" x="841.8" y="81">3176.00</text>
<rect x="838" y="179" width="41" height="11" fill="#708090" shape-rendering="crispEdges"/>
<text class="pw" x="841.8" y="188">3064.00</text>
<rect x="838" y="114" width="41" height="11" fill="#000" shape-rendering="crispEdges"/>
<text class="pw" x="841.8" y="123">3132.77</text>
<g shape-rendering="crispEdges" fill="#00bfff" clip-path="url(#ci)">
<rect x="0" y="369" width="3" height="57"/>
<rect x="4" y="362" width="3" height="64"/>
<rect x="8" y="362" width="3" height="64"/>
<rect x="12" y="368" width="3" height="58"/>
<rect x="16" y="380" width="3" height="46"/>
<rect x="20" y="389" width="3" height="37"/>
<rect x="24" y="395" width="3" height="31"/>
<rect x="28" y="408" width="3" height="18"/>
<rect x="32" y="416" width="3" height="10"/>
<rect x="36" y="422" width="3" height="4"/>
<rect x="40" y="424" width="3" height="2"/>
<rect x="44" y="425" width="3" height="1"/>
<rect x="48" y="424" width="3" height="2"/>
<rect x="52" y="423" width="3" height="3"/>
<rect x="56" y="423" width="3" height="3"/>
<rect x="60" y="424" width="3" height="2"/>
<rect x="64" y="427" width="3" height="3"/>
<rect x="68" y="427" width="3" height="5"/>
<rect x="72" y="427" width="3" height="8"/>
<rect x="76" y="427" width="3" height="8"/>
<rect x="80" y="427" width="3" height="8"/>
<rect x="84" y="427" width="3" height="8"/>
<rect x="88" y="427" width="3" height="8"/>
<rect x="92" y="427" width="3" height="8"/>
<rect x="96" y="427" width="3" height="10"/>
<rect x="100" y="427" width="3" height="4"/>
<rect x="104" y="427" width="3" height="3"/>
<rect x="108" y="427" width="3" height="2"/>
<rect x="112" y="425" width="3" height="1"/>
<rect x="116" y="421" width="3" height="5"/>
<rect x="120" y="416" width="3" height="10"/>
<rect x="124" y="414" width="3" height="12"/>
<rect x="128" y="413" width="3" height="13"/>
<rect x="132" y="414" width="3" height="12"/>
<rect x="136" y="414" width="3" height="12"/>
<rect x="140" y="417" width="3" height="9"/>
<rect x="144" y="422" width="3" height="4"/>
<rect x="148" y="427" width="3" height="6"/>
<rect x="152" y="427" width="3" height="5"/>
<rect x="156" y="427" width="3" height="12"/>
<rect x="160" y="427" width="3" height="17"/>
<rect x="164" y="427" width="3" height="18"/>
<rect x="168" y="427" width="3" height="19"/>
<rect x="172" y="427" width="3" height="20"/>
<rect x="176" y="427" width="3" height="22"/>
<rect x="180" y="427" width="3" height="24"/>
<rect x="184" y="427" width="3" height="23"/>
<rect x="188" y="427" width="3" height="22"/>
<rect x="192" y="427" width="3" height="22"/>
<rect x="196" y="427" width="3" height="22"/>
<rect x="200" y="427" width="3" height="24"/>
<rect x="204" y="427" width="3" height="28"/>
<rect x="208" y="427" width="3" height="28"/>
<rect x="212" y="427" width="3" height="26"/>
<rect x="216" y="427" width="3" height="24"/>
<rect x="220" y="427" width="3" height="22"/>
<rect x="224" y="427" width="3" height="17"/>
<rect x="228" y="427" width="3" height="12"/>
<rect x="232" y="427" width="3" height="3"/>
<rect x="236" y="425" width="3" height="1"/>
<rect x="240" y="423" width="3" height="3"/>
<rect x="244" y="424" width="3" height="2"/>
<rect x="248" y="423" width="3" height="3"/>
<rect x="252" y="422" width="3" height="4"/>
<rect x="256" y="424" width="3" height="2"/>
<rect x="260" y="427" width="3" height="6"/>
<rect x="264" y="427" width="3" height="8"/>
<rect x="268" y="427" width="3" height="9"/>
<rect x="272" y="427" width="3" height="12"/>
<rect x="276" y="427" width="3" height="16"/>
<rect x="280" y="427" width="3" height="17"/>
<rect x="284" y="427" width="3" height="17"/>
<rect x="288" y="427" width="3" height="25"/>
<rect x="292" y="427" width="3" height="30"/>
<rect x="296" y="427" width="3" height="35"/>
<rect x="300" y="427" width="3" height="32"/>
<rect x="304" y="427" width="3" height="29"/>
<rect x="308" y="427" width="3" height="26"/>
<rect x="312" y="427" width="3" height="22"/>
<rect x="316" y="427" width="3" height="16"/>
<rect x="320" y="427" width="3" height="10"/>
<rect x="324" y="427" width="3" height="5"/>
<rect x="328" y="427" width="3" height="2"/>
<rect x="332" y="421" width="3" height="5"/>
<rect x="336" y="418" width="3" height="8"/>
<rect x="340" y="415" width="3" height="11"/>
<rect x="344" y="414" width="3" height="12"/>
<rect x="348" y="416" width="3" height="10"/>
<rect x="352" y="417" width="3" height="9"/>
<rect x="356" y="417" width="3" height="9"/>
<rect x="360" y="417" width="3" height="9"/>
<rect x="364" y="416" width="3" height="10"/>
<rect x="368" y="416" width="3" height="10"/>
<rect x="372" y="415" width="3" height="11"/>
<rect x="376" y="412" width="3" height="14"/>
<rect x="380" y="414" width="3" height="12"/>
<rect x="384" y="412" width="3" height="14"/>
<rect x="388" y="412" width="3" height="14"/>
<rect x="392" y="414" width="3" height="12"/>
<rect x="396" y="418" width="3" height="8"/>
<rect x="400" y="419" width="3" height="7"/>
<rect x="404" y="420" width="3" height="6"/>
<rect x="408" y="421" width="3" height="5"/>
<rect x="412" y="422" width="3" height="4"/>
<rect x="416" y="422" width="3" height="4"/>
<rect x="420" y="422" width="3" height="4"/>
<rect x="424" y="421" width="3" height="5"/>
<rect x="428" y="420" width="3" height="6"/>
<rect x="432" y="421" width="3" height="5"/>
<rect x="436" y="422" width="3" height="4"/>
<rect x="440" y="422" width="3" height="4"/>
<rect x="444" y="424" width="3" height="2"/>
<rect x="448" y="425" width="3" height="1"/>
<rect x="452" y="427" width="3" height="2"/>
<rect x="456" y="427" width="3" height="2"/>
<rect x="460" y="427" width="3" height="2"/>
<rect x="464" y="427" width="3" height="1"/>
<rect x="468" y="427" width="3" height="2"/>
<rect x="472" y="427" width="3" height="14"/>
<rect x="476" y="427" width="3" height="12"/>
<rect x="480" y="427" width="3" height="7"/>
<rect x="484" y="418" width="3" height="8"/>
<rect x="488" y="406" width="3" height="20"/>
<rect x="492" y="397" width="3" height="29"/>
<rect x="496" y="392" width="3" height="34"/>
<rect x="500" y="398" width="3" height="28"/>
<rect x="504" y="411" width="3" height="15"/>
<rect x="508" y="418" width="3" height="8"/>
<rect x="512" y="424" width="3" height="2"/>
<rect x="516" y="425" width="3" height="1"/>
<rect x="520" y="424" width="3" height="2"/>
<rect x="524" y="424" width="3" height="2"/>
<rect x="528" y="420" width="3" height="6"/>
<rect x="532" y="416" width="3" height="10"/>
<rect x="536" y="414" width="3" height="12"/>
<rect x="540" y="414" width="3" height="12"/>
<rect x="544" y="414" width="3" height="12"/>
<rect x="548" y="413" width="3" height="13"/>
<rect x="552" y="414" width="3" height="12"/>
<rect x="556" y="418" width="3" height="8"/>
<rect x="560" y="422" width="3" height="4"/>
<rect x="564" y="427" width="3" height="1"/>
<rect x="568" y="427" width="3" height="5"/>
<rect x="572" y="427" width="3" height="12"/>
<rect x="576" y="427" width="3" height="16"/>
<rect x="580" y="427" width="3" height="18"/>
<rect x="584" y="427" width="3" height="19"/>
<rect x="588" y="427" width="3" height="18"/>
<rect x="592" y="427" width="3" height="12"/>
<rect x="596" y="427" width="3" height="7"/>
<rect x="600" y="427" width="3" height="6"/>
<rect x="604" y="427" width="3" height="5"/>
<rect x="608" y="427" width="3" height="5"/>
<rect x="612" y="427" width="3" height="7"/>
<rect x="616" y="427" width="3" height="10"/>
<rect x="620" y="427" width="3" height="9"/>
<rect x="624" y="427" width="3" height="10"/>
<rect x="628" y="427" width="3" height="10"/>
<rect x="632" y="427" width="3" height="8"/>
<rect x="636" y="427" width="3" height="7"/>
<rect x="640" y="427" width="3" height="5"/>
<rect x="644" y="427" width="3" height="5"/>
<rect x="648" y="427" width="3" height="5"/>
<rect x="652" y="427" width="3" height="4"/>
<rect x="656" y="425" width="3" height="1"/>
<rect x="660" y="423" width="3" height="3"/>
</g>
<g shape-rendering="crispEdges">
<rect x="0" y="390" width="836" height="1" fill="#708090"/>
<rect x="0" y="411" width="836" height="1" fill="#708090"/>
<rect x="0" y="426" width="836" height="1" fill="#708090"/>
<rect x="0" y="433" width="836" height="1" fill="#708090"/>
<line x1="-1" y1="379.5" x2="836" y2="379.5" stroke="#c0c0c0" stroke-width="1" stroke-dasharray="3 3"/>
<line x1="-1" y1="444.5" x2="836" y2="444.5" stroke="#c0c0c0" stroke-width="1" stroke-dasharray="3 3"/>
</g>
<g clip-path="url(#ci)">
<polyline points="14.0,369.0 18.0,389.0 20.0,395.0 25.4,421.0 30.0,408.0 34.0,402.0 38.0,401.0 42.0,389.0 48.0,378.0 54.0,372.4 58.0,374.0 64.0,390.0 69.0,412.0 73.4,428.0 78.0,408.0 82.0,386.0 85.0,370.0 86.4,369.0 88.0,386.0 93.0,405.0 97.4,415.6 102.0,402.0 106.0,386.0 110.0,377.6 114.0,378.0 118.0,371.0 122.0,369.0 128.0,374.0 133.0,382.0 138.0,384.0 142.0,391.0 146.0,406.0 149.0,431.0 152.0,431.0 157.0,424.0 162.0,421.0 167.0,421.6 170.0,422.4 173.0,421.0 175.0,430.0 178.0,441.0 182.0,446.0 185.6,453.0 188.0,430.0 190.0,418.0 194.0,416.0 197.6,412.0 200.0,428.0 202.4,440.0 206.0,438.0 210.0,430.0 214.0,417.0 218.0,400.0 222.0,388.0 226.0,380.0 230.0,377.0 233.6,371.6 237.0,378.0 241.0,387.0 244.0,400.0 246.0,414.0 250.0,420.0 254.0,423.0 258.0,424.0 261.0,432.0 265.0,437.6 269.0,436.0 273.0,433.6 276.0,437.0 281.0,438.0 286.0,438.0 290.0,439.0 294.0,443.0 297.0,448.6 301.0,446.0 306.0,441.0 310.0,430.0 313.0,420.0 316.0,411.0 320.0,408.0 325.0,406.0 329.0,400.0 332.0,386.0 335.0,379.0 338.0,377.6 342.0,379.0 344.0,380.0 347.0,386.0 349.0,402.0 351.0,420.0 353.0,433.0 357.0,442.4 360.0,432.0 363.0,412.0 366.0,391.0 369.0,389.0 373.4,381.6 377.0,389.0 381.0,400.0 385.0,406.0 389.0,407.0 393.0,405.6 396.0,414.0 399.0,428.0 401.6,435.0 405.0,432.0 408.0,420.0 412.0,411.0 417.0,404.0 421.0,400.0 425.0,384.0 429.0,374.0 432.0,373.0 435.0,379.0 438.0,394.0 441.0,414.0 444.0,432.0 446.0,438.0 450.0,440.0 453.6,444.0 457.0,436.0 460.0,426.0 462.4,410.0 465.6,392.0 468.0,398.0 471.0,414.0 473.0,430.0 476.0,420.0 477.5,411.0 481.0,397.5 483.75,378.75 486.0,369.4 490.0,366.9 497.0,365.25 498.75,367.5 501.25,373.75 503.0,385.0 504.4,391.0 505.6,410.0 507.0,422.0 510.0,432.0 513.0,434.4 515.0,428.0 518.0,410.0 521.0,398.0 524.0,386.0 528.0,377.0 532.0,373.0 537.0,371.0 541.0,373.6 546.0,375.0 550.0,380.0 554.0,388.0 557.0,402.0 560.0,416.0 563.0,428.0 566.0,438.0 569.0,445.0 573.0,447.0 577.6,450.4 581.0,443.0 585.0,442.0 588.0,433.0 591.0,420.0 593.0,404.0 595.0,388.0 597.4,375.6 600.0,375.0 603.0,379.0 606.0,387.0 609.0,403.0 611.0,422.0 614.0,440.0 617.4,454.4 620.0,442.0 623.0,433.0 626.0,424.0 629.0,413.0 632.0,419.0 634.4,411.0 638.0,400.0 641.6,392.0 645.0,398.0 648.0,407.0 651.0,414.0 653.0,416.4 655.6,400.0 659.0,382.0 661.6,377.0" fill="none" stroke="#0000ff" stroke-width="1" stroke-linejoin="round" shape-rendering="crispEdges"/>
<polyline points="0.0,369.5 14.0,369.5 19.0,378.0 22.0,385.0 25.0,399.0 30.0,407.0 35.0,408.0 40.0,401.0 46.0,390.0 52.4,380.0 59.0,375.0 63.0,381.0 67.0,394.0 72.0,410.0 77.0,417.0 81.0,410.0 85.0,396.0 89.0,385.0 92.0,389.0 96.0,402.0 99.0,407.0 104.0,404.0 108.0,392.0 113.0,382.0 118.0,375.6 124.0,371.0 130.0,372.0 136.0,380.0 142.0,386.0 147.0,398.0 151.0,412.0 154.0,423.0 158.0,426.0 163.0,424.0 168.0,422.4 172.0,421.0 175.0,427.0 179.0,434.0 183.0,440.0 187.0,441.0 191.0,434.0 195.0,424.0 198.0,417.0 201.0,423.0 205.0,430.0 209.0,435.0 213.0,430.0 217.0,421.0 221.0,404.0 225.0,392.0 229.0,383.0 234.0,377.0 239.0,379.0 243.0,386.0 247.0,402.0 250.0,413.0 254.0,420.0 259.0,424.0 263.0,430.0 268.0,435.0 274.0,435.0 280.0,436.0 286.0,437.6 292.0,439.0 298.0,444.0 304.0,447.0 309.0,438.0 313.0,428.0 317.0,419.0 322.0,411.0 328.0,404.0 333.0,393.0 338.0,383.0 342.0,379.0 345.0,381.0 349.0,390.0 352.0,404.0 355.0,418.0 359.0,430.0 362.0,429.0 365.0,416.0 368.0,404.0 372.0,392.0 376.0,386.0 380.0,391.0 384.0,398.0 389.0,404.0 394.0,407.0 398.0,414.0 402.0,422.0 406.0,428.0 409.0,428.0 412.0,418.0 416.0,412.0 420.0,406.0 424.0,396.0 429.0,384.0 433.0,377.0 436.0,382.0 439.0,390.0 442.0,404.0 445.0,420.0 449.0,430.0 453.0,439.0 457.0,438.0 461.0,430.0 464.0,418.0 468.0,407.0 472.0,408.0 475.0,413.0 478.0,411.0 482.0,404.0 485.0,392.0 489.0,378.0 493.0,370.0 498.0,366.0 502.0,371.0 505.0,383.0 508.0,397.5 510.6,408.75 512.5,417.0 514.5,426.0 517.0,427.0 521.25,420.0 523.75,410.0 527.5,392.5 531.25,382.5 536.25,376.25 541.9,373.0 546.25,374.4 550.0,377.5 552.0,381.0 556.0,389.0 559.0,398.0 562.0,414.0 566.0,428.0 570.0,438.0 574.0,444.0 578.0,446.4 583.0,445.0 587.0,440.0 591.0,428.0 594.0,416.0 597.0,402.0 600.0,388.0 603.0,381.0 606.0,382.0 609.0,389.0 612.0,404.0 615.0,422.0 618.0,434.0 621.0,440.0 624.0,438.0 628.0,430.0 632.0,422.0 636.0,414.0 640.0,406.0 644.0,400.0 648.0,401.0 652.0,407.0 656.0,406.0 659.0,402.0 661.0,394.0" fill="none" stroke="#ff0000" stroke-width="1" stroke-linejoin="round" stroke-dasharray="3 3" shape-rendering="crispEdges"/>
<polyline points="0.0,378.5 13.5,378.5 17.3,389.0 22.0,389.0 25.5,386.0 28.2,390.0 36.0,391.6 40.0,389.0 48.0,386.0 54.0,384.0 59.0,384.6 64.0,389.0 74.0,389.0 80.0,387.0 86.0,386.4 89.0,389.0 97.0,388.4 101.0,382.0 105.0,387.0 109.0,384.0 116.0,382.0 122.0,378.0 130.0,377.0 137.0,374.4 140.0,379.0 146.0,390.0 151.0,389.0 154.0,389.0 158.0,394.0 163.0,395.0 166.0,394.0 170.0,398.0 174.0,399.6 180.0,404.0 185.0,413.0 189.0,399.0 193.0,407.0 198.0,411.0 202.0,415.0 205.0,418.0 210.0,414.0 214.0,417.0 218.0,412.0 222.0,414.0 227.0,411.0 234.0,405.0 239.0,407.6 245.0,410.0 250.0,408.0 255.0,408.0 258.0,413.0 261.0,418.0 266.0,417.0 273.0,417.6 278.0,423.6 285.0,422.0 288.0,430.0 292.0,434.0 297.0,436.0 301.0,429.0 307.0,431.0 313.0,428.0 322.0,428.0 329.0,427.0 333.0,423.0 340.0,422.4 346.0,423.0 353.0,428.4 357.0,422.4 362.0,422.0 365.0,417.0 370.0,420.0 374.0,417.0 377.0,411.0 381.0,415.0 385.0,412.0 389.0,411.0 394.0,414.0 398.0,418.4 403.0,415.0 409.0,414.0 415.0,412.0 421.0,412.0 427.0,407.6 432.0,412.0 440.0,412.4 446.0,417.0 453.0,420.4 458.0,416.4 465.0,415.6 469.0,419.0 473.0,439.6 477.0,414.0 481.0,412.0 485.0,399.0 490.0,396.0 497.0,394.4 500.0,400.0 505.0,415.0 509.0,412.0 514.0,411.0 518.0,405.0 523.0,404.0 530.0,401.0 536.0,400.6 542.0,400.0 548.0,396.0 553.0,395.0 558.0,401.0 562.0,403.0 566.0,401.6 570.0,407.0 573.0,412.4 577.0,412.4 581.0,409.0 585.0,415.6 589.0,411.0 593.0,405.0 597.0,404.0 601.0,408.4 605.0,409.6 610.0,410.4 614.0,414.0 617.0,415.0 621.0,409.0 625.0,412.0 630.0,412.4 635.0,412.0 640.0,410.4 645.0,413.0 649.0,413.6 653.0,411.0 657.0,405.0 661.0,405.6" fill="none" stroke="#0000cd" stroke-width="2.2" stroke-linejoin="round" shape-rendering="crispEdges"/>
</g>
<text x="1.2" y="369" letter-spacing="0.8">OsMA</text>
<text x="28.4" y="369" letter-spacing="-0.15">(12,26,9) 1.6001</text>
<text x="102.2" y="369" letter-spacing="-0.11">Stoch(5,3,3) 83.2728 66.0533</text>
<text x="230.2" y="369">RSI(14) 55.3277</text>
<text x="839.5" y="367">34.7314</text>
<text x="838.8" y="383">80</text>
<rect x="838" y="385" width="12" height="11" fill="#708090" shape-rendering="crispEdges"/><text class="w" x="838.8" y="394">70</text>
<rect x="838" y="406" width="12" height="11" fill="#708090" shape-rendering="crispEdges"/><text class="w" x="838.8" y="415">50</text>
<rect x="838" y="421" width="7" height="7" fill="#708090" shape-rendering="crispEdges"/><text class="w" x="838.8" y="430">0</text>
<text x="839.5" y="430">0.00</text>
<rect x="838" y="428" width="12" height="11" fill="#708090" shape-rendering="crispEdges"/><text class="w" x="838.8" y="437">30</text>
<text x="838.8" y="448">20</text>
<text x="839.5" y="464">-19.6618</text>
<text x="-4.3" y="479">2 Dec 2025</text>
<text x="60.0" y="479">3 Dec 09:00</text>
<text x="124.0" y="479">4 Dec 01:00</text>
<text x="188.0" y="479">4 Dec 17:00</text>
<text x="252.0" y="479">5 Dec 09:00</text>
<text x="316.0" y="479">6 Dec 01:00</text>
<text x="380.0" y="479">6 Dec 17:00</text>
<text x="444.0" y="479">7 Dec 09:00</text>
<text x="508.0" y="479">8 Dec 01:00</text>
<text x="572.0" y="479">8 Dec 17:00</text>
<text x="636.0" y="479">9 Dec 09:00</text>
<rect x="836" y="390" width="2" height="1" fill="#708090" shape-rendering="crispEdges"/>
<rect x="836" y="411" width="2" height="1" fill="#708090" shape-rendering="crispEdges"/>
<rect x="836" y="426" width="2" height="1" fill="#708090" shape-rendering="crispEdges"/>
<rect x="836" y="433" width="2" height="1" fill="#708090" shape-rendering="crispEdges"/>
</svg></body></html>
